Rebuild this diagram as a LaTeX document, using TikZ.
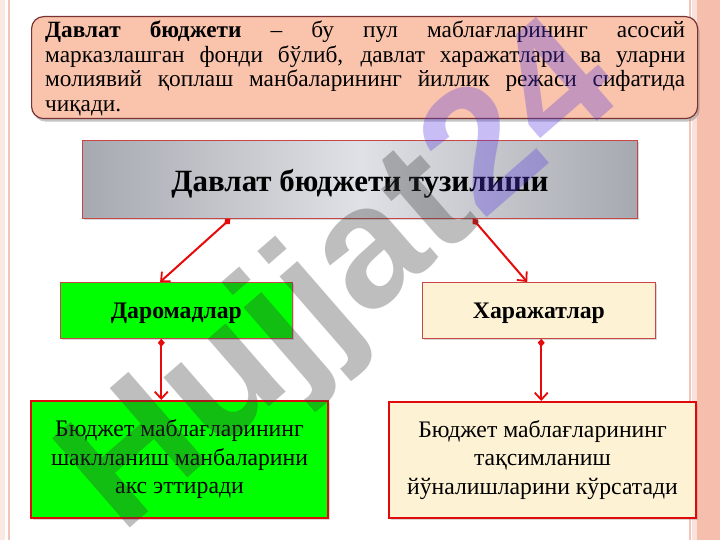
\documentclass[tikz,border=0pt]{standalone}
\usepackage{fontspec}
\setmainfont{Liberation Serif}
\newfontfamily\wmfont{Liberation Sans}
\usetikzlibrary{arrows.meta,shadows,calc}
\definecolor{salmonbox}{RGB}{250,196,172}
\definecolor{defborder}{RGB}{120,50,50}
\definecolor{cream}{RGB}{253,242,212}
\definecolor{thinborder}{RGB}{200,70,70}
\definecolor{boldred}{RGB}{225,10,10}
\definecolor{arrowred}{RGB}{230,10,10}
\definecolor{framepink}{RGB}{244,196,184}
\definecolor{bandsalmon}{RGB}{246,190,172}
\definecolor{wmgray}{RGB}{60,60,60}
\definecolor{wmpurple}{RGB}{90,60,225}
\definecolor{titleedge}{RGB}{166,169,176}
\definecolor{titlemid}{RGB}{224,225,230}
\newlength\mymeasure
\newcommand\mkfitsize[4]{%
  \settowidth\mymeasure{\normalfont#2\fontsize{10}{12}\selectfont #3}%
  \pgfmathsetmacro\mytmpsize{10*#4/\mymeasure}%
  \global\let#1\mytmpsize}
\AtBeginDocument{%
  \mkfitsize{\defsize}{}{чиқади.}{76}%
  \mkfitsize{\titlesize}{\bfseries}{Давлат бюджети тузилиши}{377}%
  \mkfitsize{\midsize}{\bfseries}{Даромадлар}{131}%
  \mkfitsize{\lowsize}{}{шаклланиш манбаларини}{257}}
\tikzset{
  defbox/.style={draw=defborder, line width=1.2pt, fill=salmonbox, rounded corners=12pt,
    drop shadow={shadow xshift=2pt, shadow yshift=-3pt, opacity=0.45}, inner sep=0pt},
  titlebox/.style={draw=thinborder, line width=0.8pt, left color=titleedge, right color=titleedge,
    middle color=titlemid, drop shadow={shadow xshift=2pt, shadow yshift=-2pt, opacity=0.3}},
  midbox/.style={draw=thinborder, line width=0.8pt,
    drop shadow={shadow xshift=2pt, shadow yshift=-2pt, opacity=0.3}},
  lowbox/.style={draw=boldred, line width=2pt, align=center,
    drop shadow={shadow xshift=2pt, shadow yshift=-2pt, opacity=0.3}},
  link/.style={draw=arrowred, line width=2pt,
    {Diamond[length=8pt,width=7pt]}-{Straight Barb[length=7pt,width=13pt,line width=1.8pt]}}
}
\begin{document}
\begin{tikzpicture}[x=1pt,y=-1pt]
\useasboundingbox (0,0) rectangle (720,540);
\fill[white] (0,0) rectangle (720,540);
% frame
\fill[framepink!40] (0,0) rectangle (5,540);
\draw[framepink, line width=1.5pt] (9,0) -- (9,540);
\draw[framepink, line width=1.5pt] (690,0) -- (690,540);
\fill[framepink!50] (692,0) rectangle (697,540);
\fill[bandsalmon] (697,0) rectangle (720,540);

% definition box
\node[defbox, minimum width=666pt, minimum height=102pt, anchor=north west] (def) at (31,16) {};
\node[anchor=base west, inner sep=0pt, font=\fontsize{\defsize}{24.4}\selectfont] (deftext) at (45,38)
 {\parbox[t]{640pt}{\textbf{Давлат бюджети} – бу пул маблағларининг асосий\linebreak
 марказлашган фонди бўлиб, давлат харажатлари ва уларни\linebreak
 молиявий қоплаш манбаларининг йиллик режаси сифатида\linebreak
 чиқади.}};

% title
\node[titlebox, minimum width=555pt, minimum height=78pt, anchor=north west,
  font=\bfseries\fontsize{\titlesize}{32}\selectfont] (title) at (82,140)
  {\raisebox{-4pt}[\height][\depth]{Давлат бюджети тузилиши}};

% middle boxes
\node[midbox, fill=green, minimum width=232pt, minimum height=56pt, anchor=north west,
  font=\bfseries\fontsize{\midsize}{24}\selectfont] (income) at (60,282)
  {\raisebox{-3pt}[\height][\depth]{Даромадлар}};
\node[midbox, fill=cream, minimum width=233pt, minimum height=56pt, anchor=north west,
  font=\bfseries\fontsize{\midsize}{24}\selectfont] (expense) at (422,282)
  {\raisebox{-3pt}[\height][\depth]{Харажатлар}};

% lower boxes
\node[lowbox, fill=green, minimum width=297pt, minimum height=117pt, anchor=north west,
  font=\fontsize{\lowsize}{28.5}\selectfont] (incdesc) at (30,400)
  {Бюджет маблағларининг\\шаклланиш манбаларини\\акс эттиради};
\node[lowbox, fill=cream, minimum width=307pt, minimum height=116pt, anchor=north west,
  font=\fontsize{\lowsize}{28.5}\selectfont] (expdesc) at (388,401)
  {Бюджет маблағларининг\\тақсимланиш\\йўналишларини кўрсатади};

% connectors
\coordinate (t1) at ($(title.south west)!0.267!(title.south east)$);
\coordinate (t2) at ($(title.south west)!0.703!(title.south east)$);
\coordinate (i1) at ($(income.north west)!0.43!(income.north east)$);
\coordinate (e1) at ($(expense.north west)!0.45!(expense.north east)$);
\coordinate (i2) at ($(income.south west)!0.435!(income.south east)$);
\coordinate (e2) at ($(expense.south west)!0.51!(expense.south east)$);
\draw[link] (t1) -- (i1);
\draw[link] (t2) -- (e1);
\draw[link] (i2) -- (i2 |- incdesc.north);
\draw[link] (e2) -- (e2 |- expdesc.north);

% watermark
\node[rotate=41, opacity=0.33, text=wmgray, inner sep=0pt,
  font=\wmfont\bfseries\fontsize{172}{172}\selectfont] (wm) at (345,282)
  {Hujjat\textcolor{wmpurple}{24}};
\end{tikzpicture}
\end{document}
